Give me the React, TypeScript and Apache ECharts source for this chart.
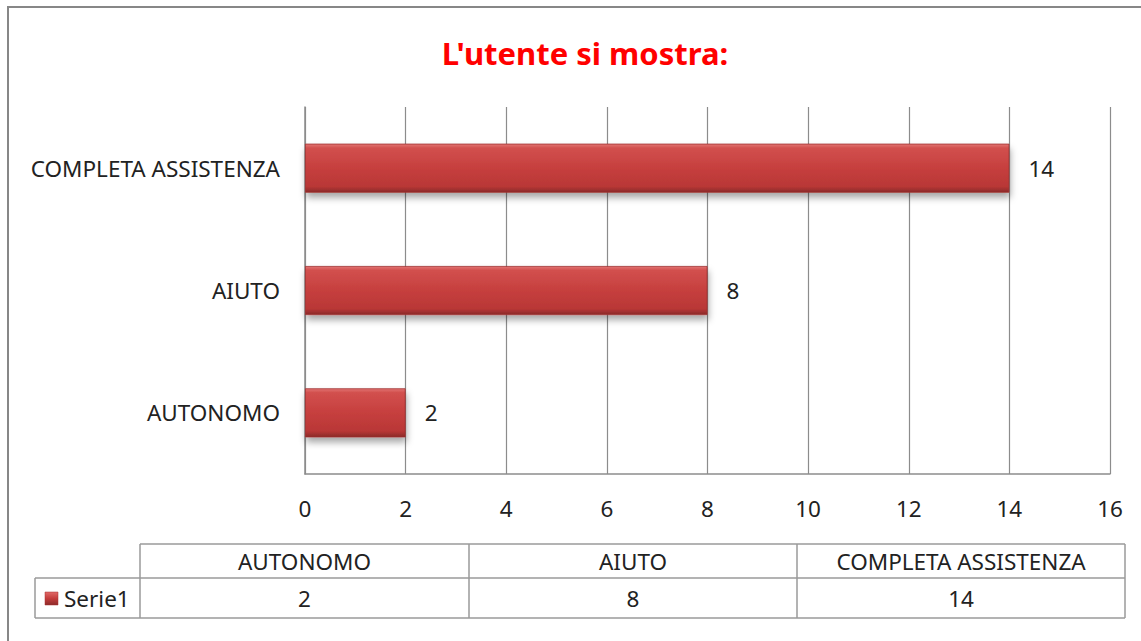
import React, { useEffect, useRef } from "react";
import * as echarts from "echarts";

const title = "L'utente si mostra:";
const categories = ["AUTONOMO", "AIUTO", "COMPLETA ASSISTENZA"];
const values = [2, 8, 14];
const seriesName = "Serie1";
const xMin = 0;
const xMax = 16;
const xInterval = 2;

const FONT = "'Noto Sans', 'Open Sans', sans-serif";
const FS = 22.5;

export default function App() {
  const ref = useRef<HTMLDivElement>(null);
  useEffect(() => {
    document.body.style.margin = "0";
    if (!ref.current) return;
    const chart = echarts.init(ref.current, null, { renderer: "svg" });

    const colX = [140, 469, 797, 1125];
    const rowY = [544, 578, 618];
    const legendLeft = 35;
    const lineStyle = { stroke: "#9a9a9a", lineWidth: 1.5 };
    const graphics: any[] = [
      {
        type: "rect",
        shape: { x: 8, y: 7, width: 1160, height: 660 },
        style: { fill: "none", stroke: "#878787", lineWidth: 2 },
        z: 0,
      },
      { type: "line", shape: { x1: colX[0], y1: rowY[0], x2: colX[3], y2: rowY[0] }, style: lineStyle },
      { type: "line", shape: { x1: legendLeft, y1: rowY[1], x2: colX[3], y2: rowY[1] }, style: lineStyle },
      { type: "line", shape: { x1: legendLeft, y1: rowY[2], x2: colX[3], y2: rowY[2] }, style: lineStyle },
      { type: "line", shape: { x1: legendLeft, y1: rowY[1], x2: legendLeft, y2: rowY[2] }, style: lineStyle },
      ...colX.map((x) => ({
        type: "line",
        shape: { x1: x, y1: rowY[0], x2: x, y2: rowY[2] },
        style: lineStyle,
      })),
      {
        type: "rect",
        shape: { x: 45, y: 592, width: 13, height: 13 },
        style: {
          fill: new echarts.graphic.LinearGradient(0, 0, 0, 1, [
            { offset: 0, color: "#e06a68" },
            { offset: 0.5, color: "#c43d3c" },
            { offset: 1, color: "#8c2b2a" },
          ]),
          stroke: "#a33",
          lineWidth: 0.5,
        },
      },
      {
        type: "text",
        x: 64,
        y: (rowY[1] + rowY[2]) / 2,
        style: { text: seriesName, font: `${FS}px ${FONT}`, fill: "#222", verticalAlign: "middle", align: "left" },
      },
    ];
    categories.forEach((c, i) => {
      const cx = (colX[i] + colX[i + 1]) / 2;
      graphics.push({
        type: "text",
        x: cx,
        y: (rowY[0] + rowY[1]) / 2,
        style: { text: c, font: `${FS}px ${FONT}`, fill: "#222", align: "center", verticalAlign: "middle" },
      });
      graphics.push({
        type: "text",
        x: cx,
        y: (rowY[1] + rowY[2]) / 2,
        style: { text: String(values[i]), font: `${FS}px ${FONT}`, fill: "#222", align: "center", verticalAlign: "middle" },
      });
    });

    chart.setOption({
      animation: false,
      backgroundColor: "#ffffff",
      title: {
        text: title,
        left: 580,
        textAlign: "center",
        top: 32,
        textStyle: { color: "#ff0000", fontSize: 31, fontWeight: "bold", fontFamily: FONT },
      },
      grid: { left: 305, right: 31, top: 107, bottom: 167 },
      xAxis: {
        type: "value",
        min: xMin,
        max: xMax,
        interval: xInterval,
        axisLine: { show: true, lineStyle: { color: "#8c8c8c", width: 1.5 } },
        axisTick: { show: false },
        splitLine: { show: true, lineStyle: { color: "#8c8c8c", width: 1.2 } },
        axisLabel: { color: "#222", fontSize: FS, fontFamily: FONT, margin: 23 },
      },
      yAxis: {
        type: "category",
        data: categories,
        axisLine: { show: true, lineStyle: { color: "#8c8c8c", width: 1.5 } },
        axisTick: { show: false },
        axisLabel: { color: "#222", fontSize: FS, fontFamily: FONT, margin: 25 },
      },
      series: [
        {
          name: seriesName,
          type: "bar",
          data: values,
          barWidth: 49,
          itemStyle: {
            color: new echarts.graphic.LinearGradient(0, 0, 0, 1, [
              { offset: 0, color: "#e27573" },
              { offset: 0.08, color: "#d2504e" },
              { offset: 0.5, color: "#c63f3e" },
              { offset: 0.88, color: "#b93736" },
              { offset: 1, color: "#8a2a29" },
            ]),
            borderColor: "#9e302f",
            borderWidth: 0.8,
            shadowBlur: 7,
            shadowOffsetY: 5,
            shadowOffsetX: 1,
            shadowColor: "rgba(0,0,0,0.35)",
          },
          label: {
            show: true,
            position: "right",
            distance: 19,
            color: "#222",
            fontSize: FS,
            fontFamily: FONT,
          },
        },
      ],
      graphic: graphics,
    });
    return () => chart.dispose();
  }, []);
  return <div ref={ref} style={{ width: 1141, height: 641 }} />;
}
